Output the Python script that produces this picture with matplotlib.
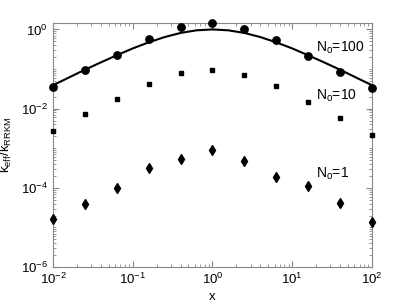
import matplotlib
matplotlib.use('Agg')
import matplotlib.pyplot as plt
from matplotlib.ticker import LogLocator, NullFormatter

# sampled points, x = 10^(-2 + 0.4k)
x_pts = [0.01, 0.0251, 0.0631, 0.158, 0.398, 1.0, 2.51, 6.31, 15.8, 39.8, 100.0]
n100 = [0.036, 0.093, 0.23, 0.56, 1.12, 1.47, 1.0, 0.55, 0.21, 0.083, 0.033]
n10 = [0.0028, 0.0072, 0.018, 0.043, 0.081, 0.093, 0.071, 0.037, 0.0147, 0.0057, 0.0022]
n1 = [1.6e-5, 3.9e-5, 1.0e-4, 3.1e-4, 5.3e-4, 8.8e-4, 4.7e-4, 1.9e-4, 1.1e-4, 4.1e-5, 1.4e-5]

# smooth curve, every 0.2 decade
x_curve = [0.01, 0.0158, 0.0251, 0.0398, 0.0631, 0.1, 0.158, 0.251, 0.398, 0.631, 1.0,
           1.58, 2.51, 3.98, 6.31, 10.0, 15.8, 25.1, 39.8, 63.1, 100.0]
y_curve = [0.039, 0.061, 0.096, 0.147, 0.223, 0.331, 0.471, 0.641, 0.815, 0.949, 1.0,
           0.949, 0.815, 0.641, 0.471, 0.331, 0.223, 0.147, 0.096, 0.061, 0.039]

labels = ['N$_\\mathregular{o}$=100', 'N$_\\mathregular{o}$=10', 'N$_\\mathregular{o}$=1']
label_pos = [(20, 0.34), (20, 0.0215), (20, 2.3e-4)]

plt.rcParams['font.family'] = ['Liberation Sans', 'DejaVu Sans']
plt.rcParams['font.size'] = 8.5

fig = plt.figure(figsize=(4.11, 3.08), dpi=100)
ax = fig.add_axes([0.129, 0.133, 0.776, 0.793])

ax.plot(x_curve, y_curve, color='black', lw=1.5, zorder=2)
ax.plot(x_pts, n100, 'o', color='black', ms=5.3, clip_on=False, zorder=3)
ax.plot(x_pts, n10, 's', color='black', ms=3.0, clip_on=False, zorder=3)
ax.plot(x_pts, n1, 'd', color='black', ms=5.6, clip_on=False, zorder=3)

ax.set_xscale('log')
ax.set_yscale('log')
ax.set_xlim(1e-2, 1e2)
ax.set_ylim(1e-6, 1.47)

ax.xaxis.set_major_locator(LogLocator(base=10, numticks=10))
ax.yaxis.set_major_locator(LogLocator(base=100, numticks=10))
ax.xaxis.set_minor_locator(LogLocator(base=10, subs=range(2, 10), numticks=20))
ax.yaxis.set_minor_locator(LogLocator(base=10, subs=range(1, 10), numticks=20))
ax.xaxis.set_minor_formatter(NullFormatter())
ax.yaxis.set_minor_formatter(NullFormatter())

ax.tick_params(which='both', direction='in', top=True, right=True, color='#888888')
ax.tick_params(which='major', length=4, labelsize=9.5)
ax.tick_params(which='minor', length=2)
for s in ax.spines.values():
    s.set_color('#888888')
    s.set_linewidth(0.8)

for lab, (lx, ly) in zip(labels, label_pos):
    ax.text(lx, ly, lab, fontsize=10, va='center')

ax.set_xlabel('x', fontsize=9.5, labelpad=3)
ax.set_ylabel('k$_\\mathregular{eff}$/k$_\\mathregular{RRKM}$', fontsize=9.5, labelpad=5)

fig.savefig('out.png', dpi=100)
